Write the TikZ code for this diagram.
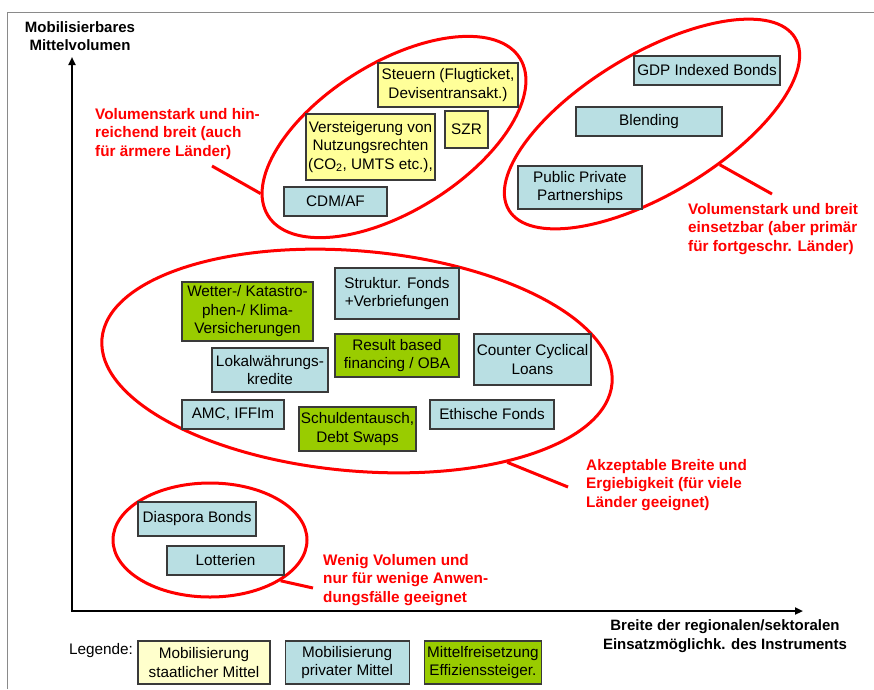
\documentclass[tikz,border=0pt]{standalone}
\usepackage{fontspec}
\setmainfont{Liberation Sans}
\usepackage{xcolor}
\usepackage{tikz}
\usetikzlibrary{shapes.geometric,arrows.meta,positioning}
\definecolor{StateYellow}{HTML}{FFFF99}
\definecolor{PaleYellow}{HTML}{FFFFCC}
\definecolor{PrivateBlue}{HTML}{B9DFE3}
\definecolor{EffGreen}{HTML}{99CC00}
\definecolor{EdgeGrey}{HTML}{3A3A3A}
\definecolor{FrameGrey}{HTML}{8A8A8A}
\definecolor{MarkRed}{HTML}{FF0000}
\tikzset{
  % Base box
  IB/.style={rectangle,draw=EdgeGrey,line width=1.2pt,inner sep=1pt,
             text centered,align=center,font=\fontsize{15.3}{18.5}\selectfont},
  % Colour variants
  iY/.style={IB,fill=StateYellow},
  iL/.style={IB,fill=PaleYellow},
  iB/.style={IB,fill=PrivateBlue},
  iG/.style={IB,fill=EffGreen},
  % Ellipse round a group
  ring/.style={ellipse,draw=MarkRed,line width=3pt,inner sep=0pt},
  % Red remarks
  rem/.style={anchor=west,inner sep=0pt,align=left,text=MarkRed,
              font=\fontsize{15.3}{18.5}\selectfont\bfseries},
  callout/.style={draw=MarkRed,line width=3pt},
  % Axes
  axis/.style={{Triangle[length=8pt,width=7pt]}-{Triangle[length=8pt,width=7pt]},line width=2.2pt},
  axlab/.style={align=center,inner sep=0pt,font=\fontsize{15}{18.5}\selectfont\bfseries}
}

\begin{document}
\begin{tikzpicture}[x=1pt,y=-1pt]
  \useasboundingbox (0,0) rectangle (874,689);
  \draw[FrameGrey,line width=1pt] (7,689) -- (7,12) -- (874,12);

  % groups
  \node[ring,minimum width=297pt,minimum height=148pt,rotate=32] (volHigh) at (394,137) {};
  \node[ring,minimum width=334pt,minimum height=140pt,rotate=31] (volBroad) at (652,124) {};
  \node[ring,minimum width=512pt,minimum height=220pt,rotate=-5] (volMid) at (357,361) {};
  \node[ring,minimum width=194pt,minimum height=114pt] (volLow) at (210,540) {};

  % axes
  \node[axlab] (ylab) at (80,36) {Mobilisierbares\\Mittelvolumen};
  \node[axlab] (xlab) at (725,636) {Breite der regionalen/sektoralen\\Einsatzmöglichk. des Instruments};
  \coordinate (ytip) at (72,57);
  \coordinate (xtip) at (803,611);
  \draw[axis] (ytip) |- (xtip);

  % instruments
  \node[iY,minimum width=140pt,minimum height=44pt] (steuern) at (448,85) {Steuern (Flugticket,\\Devisentransakt.)};
  \node[iY,minimum width=43pt,minimum height=37pt] (szr) at (466.5,129.5) {SZR};
  \node[iY,minimum width=129pt,minimum height=66pt] (auction) at (370.5,147) {Versteigerung von\\Nutzungsrechten\\(CO\textsubscript{2}, UMTS etc.),};
  \node[iB,minimum width=103pt,minimum height=29pt] (cdm) at (335.5,201.5) {CDM/AF};
  \node[iB,minimum width=146pt,minimum height=29pt] (gdp) at (707,70.5) {GDP Indexed Bonds};
  \node[iB,minimum width=146pt,minimum height=29pt] (blend) at (649,121.5) {Blending};
  \node[iB,minimum width=124pt,minimum height=43pt] (ppp) at (580,187.5) {Public Private\\Partnerships};
  \node[iG,minimum width=131pt,minimum height=59pt] (wetter) at (247.5,311.5) {Wetter-/ Katastro-\\phen-/ Klima-\\Versicherungen};
  \node[iB,minimum width=124pt,minimum height=51pt] (struktur) at (397,293.5) {Struktur. Fonds\\+Verbriefungen};
  \node[iG,minimum width=124pt,minimum height=43pt] (result) at (397,355.5) {Result based\\financing / OBA};
  \node[iB,minimum width=117pt,minimum height=51pt] (counter) at (532.5,359.5) {Counter Cyclical\\Loans};
  \node[iB,minimum width=116pt,minimum height=44pt] (lokal) at (270,370) {Lokalwährungs-\\kredite};
  \node[iB,minimum width=102pt,minimum height=29pt] (amc) at (233,414.5) {AMC, IFFIm};
  \node[iG,minimum width=117pt,minimum height=44pt] (swap) at (357.5,429) {Schuldentausch,\\Debt Swaps};
  \node[iB,minimum width=124pt,minimum height=29pt] (ethic) at (492,414.5) {Ethische Fonds};
  \node[iB,minimum width=118pt,minimum height=34pt] (diaspora) at (197,519) {Diaspora Bonds};
  \node[iB,minimum width=117pt,minimum height=29pt] (lotto) at (225.5,560.5) {Lotterien};

  % remarks
  \node[rem] (remHigh) at (95,134) {Volumenstark und hin-\\reichend breit (auch\\für ärmere Länder)};
  \node[rem] (remBroad) at (688,229) {Volumenstark und breit\\einsetzbar (aber primär\\für fortgeschr. Länder)};
  \node[rem] (remMid) at (586,485) {Akzeptable Breite und\\Ergiebigkeit (für viele\\Länder geeignet)};
  \node[rem] (remLow) at (323,580) {Wenig Volumen und\\nur für wenige Anwen-\\dungsfälle geeignet};
  \coordinate (cHigh) at (212,166);
  \coordinate (cBroad) at (772,194);
  \coordinate (cMid) at (568,487);
  \coordinate (cLow) at (313,588);
  \draw[callout] (cHigh) -- (volHigh.171);
  \draw[callout] (cBroad) -- (volBroad.298);
  \draw[callout] (cMid) -- (volMid.331);
  \draw[callout] (cLow) -- (volLow.330);

  % legend
  \node[anchor=west,inner sep=0pt,font=\fontsize{15.3}{18.5}\selectfont] (legend) at (69,651) {Legende:};
  \node[iL,minimum width=132pt,minimum height=43pt] (lgState) at (204,662.5) {Mobilisierung\\staatlicher Mittel};
  \node[iB,minimum width=124pt,minimum height=43pt,right=14pt of lgState] (lgPrivate) {Mobilisierung\\privater Mittel};
  \node[iG,minimum width=117pt,minimum height=43pt,right=14pt of lgPrivate] (lgEff) {Mittelfreisetzung\\Effizienssteiger.};
\end{tikzpicture}
\end{document}
